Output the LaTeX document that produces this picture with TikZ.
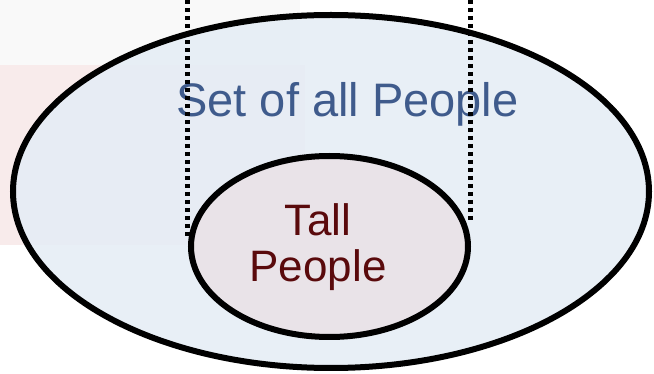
\documentclass[tikz,border=0pt]{standalone}
\usepackage{fontspec}
\setmainfont{Liberation Sans}
\usetikzlibrary{shapes.geometric}
\definecolor{setblue}{HTML}{3F5B8C}
\definecolor{tallred}{HTML}{5A0A0C}
\definecolor{outerfill}{HTML}{E6EDF5}
\definecolor{innerfill}{HTML}{E9E3E8}
\definecolor{pinkbg}{HTML}{F8EBEB}
\definecolor{greybg}{HTML}{F9F9F9}
\tikzset{
  setring/.style={ellipse, draw=black, line width=6pt, inner sep=0pt},
  guide/.style={draw=black, line width=5pt, dash pattern=on 4.5pt off 3.5pt},
  bigtext/.style={anchor=base, inner sep=0pt, text=setblue, font=\fontsize{47}{56}\selectfont},
  smalltext/.style={anchor=base, inner sep=0pt, text=tallred, font=\fontsize{44}{46}\selectfont}
}
\begin{document}
\begin{tikzpicture}[x=1pt, y=-1pt]
\useasboundingbox (0,0) rectangle (654,374);
\fill[greybg] (0,0) rectangle (300,65);
\fill[pinkbg] (0,65) rectangle (305,245);
\node[setring, fill=outerfill, fill opacity=0.9, draw opacity=1, minimum width=636pt, minimum height=353pt] (all) at (331,191.5) {};
\node[bigtext] (settext) at (347.5,117) {Set of all People};
\coordinate (l1) at (187.5,0);
\coordinate (l2) at (187.5,238);
\coordinate (r1) at (470,0);
\coordinate (r2) at (470,224);
\draw[guide] (l1) -- (l2);
\draw[guide] (r1) -- (r2);
\node[setring, fill=innerfill, minimum width=277pt, minimum height=181pt] (tall) at (329.5,246.5) {};
\node[smalltext] (talltext) at (318,236) {Tall};
\node[smalltext] (peopletext) at (318,282) {People};
\end{tikzpicture}
\end{document}
